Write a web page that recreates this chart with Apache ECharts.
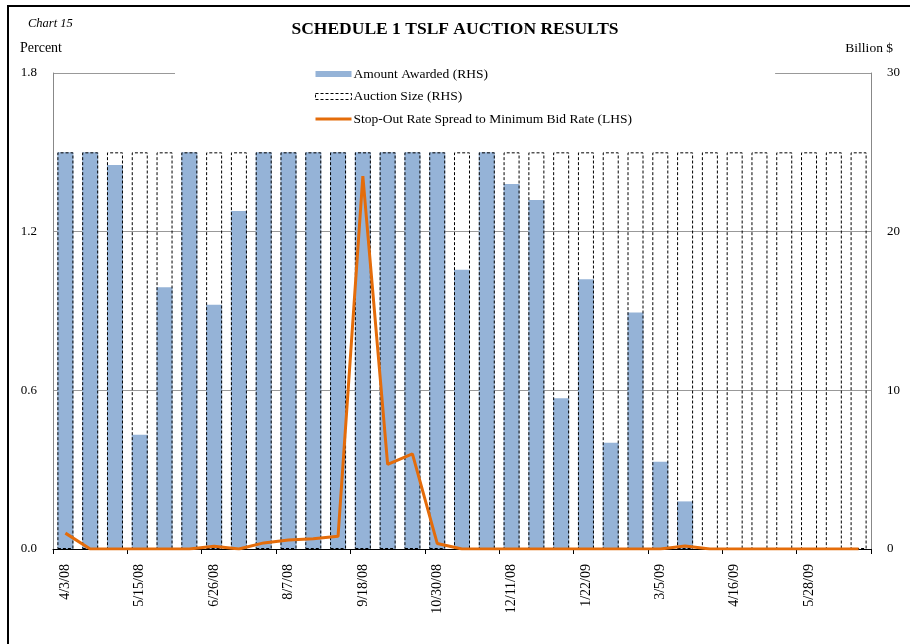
<!DOCTYPE html>
<html>
<head>
<meta charset="utf-8">
<script src="https://cdn.jsdelivr.net/npm/echarts@6/dist/echarts.min.js"></script>
<style>
  html, body { margin: 0; padding: 0; background: #fff; }
  #main { width: 910px; height: 644px; }
</style>
</head>
<body>
<div id="main"></div>
<script>
// biweekly Schedule 1 auctions
var dates = ['4/3/08', '4/17/08', '5/1/08', '5/15/08', '5/29/08', '6/12/08', '6/26/08', '7/10/08',
  '7/24/08', '8/7/08', '8/21/08', '9/4/08', '9/18/08', '10/2/08', '10/16/08', '10/30/08',
  '11/13/08', '11/27/08', '12/11/08', '12/25/08', '1/8/09', '1/22/09', '2/5/09', '2/19/09',
  '3/5/09', '3/19/09', '4/2/09', '4/16/09', '4/30/09', '5/14/09', '5/28/09', '6/11/09', '6/25/09'];

// billion $ (RHS)
var amountAwarded = [25, 25, 24.2, 7.2, 16.5, 25, 15.4, 21.3, 25, 25, 25, 25, 25, 25, 25, 25,
  17.6, 25, 23.0, 22.0, 9.5, 17.0, 6.7, 14.9, 5.5, 3.0, 0, 0, 0, 0, 0, 0, 0];
var auctionSize = [25, 25, 25, 25, 25, 25, 25, 25, 25, 25, 25, 25, 25, 25, 25, 25,
  25, 25, 25, 25, 25, 25, 25, 25, 25, 25, 25, 25, 25, 25, 25, 25, 25];

// percent (LHS)
var stopOutSpread = [0.06, 0, 0, 0, 0, 0, 0.01, 0, 0.023, 0.034, 0.039, 0.048, 1.41, 0.32, 0.36, 0.021,
  0, 0, 0, 0, 0, 0, 0, 0, 0, 0.011, 0, 0, 0, 0, 0, 0, 0];

var leftTicks = [0, 0.6, 1.2, 1.8];
var rightTicks = [0, 10, 20, 30];

var serif = '"Liberation Serif", "DejaVu Serif", serif';
var chart = echarts.init(document.getElementById('main'), null, { renderer: 'canvas' });

var option = {
  backgroundColor: '#fff',
  animation: false,
  textStyle: { fontFamily: serif, color: '#000' },
  title: {
    text: 'SCHEDULE 1 TSLF AUCTION RESULTS',
    left: 'center',
    top: 15,
    textStyle: { fontFamily: serif, fontSize: 17.5, fontWeight: 'bold', color: '#000' }
  },
  graphic: [
    { type: 'line', shape: { x1: 7, y1: 6, x2: 910, y2: 6 }, style: { stroke: '#000', lineWidth: 2 } },
    { type: 'line', shape: { x1: 8, y1: 6, x2: 8, y2: 644 }, style: { stroke: '#000', lineWidth: 2 } },
    { type: 'text', left: 28, top: 17, style: { text: 'Chart 15', font: 'italic 12.5px ' + serif, fill: '#000' } },
    { type: 'text', left: 20, top: 41, style: { text: 'Percent', font: '14px ' + serif, fill: '#000' } },
    { type: 'text', right: 17, top: 41, style: { text: 'Billion $', font: '13.5px ' + serif, fill: '#000' } }
  ],
  legend: {
    orient: 'vertical',
    left: 175,
    top: 61,
    padding: [6, 143, 6, 139],
    backgroundColor: '#fff',
    itemWidth: 36,
    itemHeight: 6,
    itemGap: 8.5,
    z: 10,
    textStyle: { fontFamily: serif, fontSize: 13.5, color: '#000', padding: [0, 0, 0, -3] },
    data: [
      { name: 'Amount Awarded (RHS)', icon: 'rect' },
      {
        name: 'Auction Size (RHS)', icon: 'rect',
        itemStyle: { color: '#fff', borderColor: '#000', borderWidth: 1, borderType: [3, 2] }
      },
      {
        name: 'Stop-Out Rate Spread to Minimum Bid Rate (LHS)',
        itemStyle: { opacity: 0 },
        lineStyle: { width: 3, color: '#E46C0A' }
      }
    ]
  },
  grid: {
    left: 53,
    right: 39,
    top: 73,
    bottom: 95
  },
  xAxis: {
    type: 'category',
    data: dates,
    boundaryGap: true,
    axisLine: { lineStyle: { color: '#000', width: 1 } },
    axisTick: { show: true, interval: 2, length: 5, lineStyle: { color: '#000' } },
    axisLabel: {
      interval: 2,
      rotate: 90,
      margin: 15,
      fontFamily: serif,
      fontSize: 14,
      color: '#000'
    },
    splitLine: { show: false }
  },
  yAxis: [{
    type: 'value',
    min: leftTicks[0],
    max: leftTicks[leftTicks.length - 1],
    interval: 0.6,
    position: 'left',
    axisLine: { show: true, lineStyle: { color: '#888' } },
    axisTick: { show: false },
    axisLabel: {
      margin: 16,
      fontFamily: serif,
      fontSize: 13,
      color: '#000',
      formatter: function (v) { return v.toFixed(1); }
    },
    splitLine: { show: true, lineStyle: { color: '#999', width: 1 } }
  }, {
    type: 'value',
    min: rightTicks[0],
    max: rightTicks[rightTicks.length - 1],
    interval: 10,
    position: 'right',
    axisLine: { show: true, lineStyle: { color: '#888' } },
    axisTick: { show: false },
    axisLabel: {
      margin: 16,
      fontFamily: serif,
      fontSize: 13,
      color: '#000'
    },
    splitLine: { show: false }
  }],
  series: [{
    name: 'Amount Awarded (RHS)',
    type: 'bar',
    yAxisIndex: 1,
    data: amountAwarded,
    barWidth: 16,
    barGap: '-100%',
    itemStyle: { color: '#95B3D7' },
    z: 2
  }, {
    name: 'Auction Size (RHS)',
    type: 'bar',
    yAxisIndex: 1,
    data: auctionSize,
    barWidth: 16,
    barGap: '-100%',
    itemStyle: {
      color: 'rgba(255,255,255,0)',
      borderColor: '#000',
      borderWidth: 1,
      borderType: [3, 2]
    },
    z: 3
  }, {
    name: 'Stop-Out Rate Spread to Minimum Bid Rate (LHS)',
    type: 'line',
    yAxisIndex: 0,
    data: stopOutSpread,
    symbol: 'none',
    lineStyle: { color: '#E46C0A', width: 3 },
    itemStyle: { color: '#E46C0A' },
    z: 5
  }]
};

chart.setOption(option);
</script>
</body>
</html>
